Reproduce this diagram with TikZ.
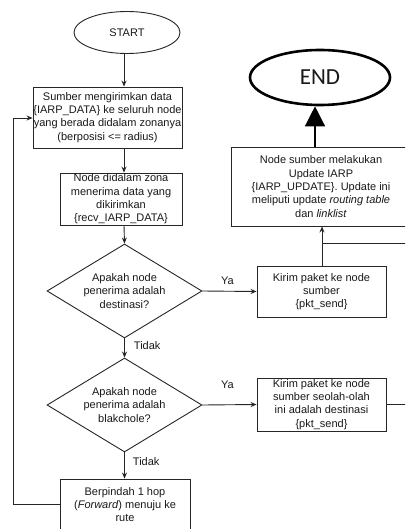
\documentclass[tikz,border=0pt]{standalone}
\usepackage{fontspec}
\setmainfont{Liberation Sans}
\newfontfamily\endfont{Carlito}
\usetikzlibrary{shapes.geometric,arrows.meta}
\begin{document}
\begin{tikzpicture}[x=1pt,y=-1pt,
  every node/.style={font=\fontsize{11}{13.3}\selectfont, align=center, inner sep=0pt, text=black!90},
  line/.style={draw=black!85, line width=0.9pt},
  arr/.style={line, -{Stealth[length=6pt,width=5pt]}},
  bigarr/.style={draw=black, line width=1.3pt, -{Triangle[length=20pt,width=20pt]}},
  box/.style={line, rectangle},
  decision/.style={line, diamond, minimum width=155pt, minimum height=94pt},
  oval/.style={line, ellipse},
  lbl/.style={font=\fontsize{11}{13.3}\selectfont}
]
\clip (0,0) rectangle (405,529);
\fill[white] (0,0) rectangle (405,529);

% vertical column shared by the main chain of arrows
\coordinate (col) at (124,0);

% main column
\node[oval, minimum width=106pt, minimum height=42pt] (start) at (127,32.5) {START};
\node[box, minimum width=149pt, minimum height=61pt] (send) at (107.5,117.5)
  {Sumber mengirimkan data\\{\{}IARP\_DATA{\}} ke seluruh node\\yang berada didalam zonanya\\(berposisi <= radius)};
\node[box, minimum width=122pt, minimum height=52pt] (recv) at (121,199)
  {Node didalam zona\\menerima data yang\\dikirimkan\\{\{}recv\_IARP\_DATA{\}}};
\node[decision] (dest) at (124.5,291) {};
\node at (dest) {Apakah node\\penerima adalah\\destinasi?};
\node[decision] (hole) at (124.5,405) {};
\node at (hole) {Apakah node\\penerima adalah\\blakchole?};
\node[box, minimum width=130pt, minimum height=51pt] (fwd) at (125,504.5)
  {Berpindah 1 hop\\(\textit{Forward}) menuju ke\\rute};

% right column
\node[oval, line width=2.6pt, draw=black, minimum width=140pt, minimum height=55pt,
  font=\endfont\fontsize{23}{26}\selectfont] (end) at (320,77.5) {END};
\node[box, minimum width=180pt, minimum height=79pt] (upd) at (321,186.5)
  {Node sumber melakukan\\Update IARP\\{\{}IARP\_UPDATE{\}}. Update ini\\meliputi update \textit{routing table}\\dan \textit{linklist}};
\node[box, minimum width=129pt, minimum height=51pt] (pkt) at (321.5,291.5)
  {Kirim paket ke node\\sumber\\{\{}pkt\_send{\}}};
\node[box, minimum width=129pt, minimum height=53pt] (fake) at (321.5,404.5)
  {Kirim paket ke node\\sumber seolah-olah\\ini adalah destinasi\\{\{}pkt\_send{\}}};

% connectors of the main column
\draw[arr] (start.south -| col) -- (send.north -| col);
\draw[arr] (send.south -| col) -- (recv.north -| col);
\draw[arr] (recv.south -| col) -- (dest.north);
\draw[arr] (dest.south) -- node[lbl, anchor=west, xshift=9pt, yshift=2pt] {Tidak} (hole.north);
\draw[arr] (hole.south) -- node[lbl, anchor=west, xshift=8pt, yshift=4pt] {Tidak} (fwd.north -| hole.south);

% Ya branches
\draw[arr] (dest.east) -- node[lbl, above=6pt, xshift=-2pt] {Ya} (pkt.west);
\draw[arr] (hole.east) -- node[lbl, above=16pt, xshift=-2pt] {Ya} (fake.west);

% into the update box and on to END
\coordinate (join) at (322,243);
\draw[arr] (pkt.north -| join) -- (upd.south -| join);
\draw[line] (fake.east) -- ++(40,0) |- (join);
\coordinate (endx) at (315,0);
\draw[bigarr] (upd.north -| endx) -- (end.south -| endx);

% loop back from forwarding to sending
\draw[arr] (fwd.west) -- (13,504.5) |- (send.west |- 0,118);
\end{tikzpicture}
\end{document}
